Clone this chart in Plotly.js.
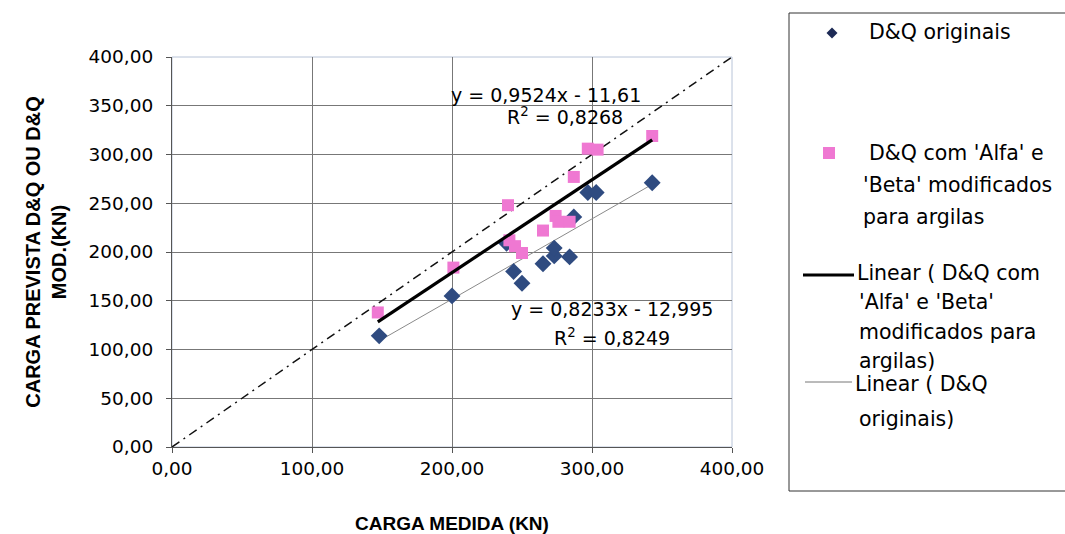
<!DOCTYPE html>
<html>
<head>
<meta charset="utf-8">
<script src="https://cdn.plot.ly/plotly-3.0.1.min.js"></script>
<style>
  html, body { margin: 0; padding: 0; background: #fff; }
  #chart { width: 1065px; height: 534px; }
</style>
</head>
<body>
<div id="chart"></div>
<script>
// ---- data ----
const xOriginais = [148, 200, 239, 244, 250, 265, 273, 273, 284, 287, 297, 303, 343];
const yOriginais = [114, 155, 209, 180, 168, 188, 196, 204, 195, 236, 261, 261, 271];

const xModificados = [147, 201, 240, 241, 245, 250, 265, 274, 276, 284, 287, 297, 304, 343];
const yModificados = [138, 184, 248, 212, 206, 199, 222, 237, 231, 231, 277, 306, 305, 319];

// trend line equations as printed on the chart
const trendSlopes = [0.9524, 0.8233];
const trendIntercepts = [-11.61, -12.995];
const trendLabels = ['y = 0,9524x - 11,61', 'y = 0,8233x - 12,995'];
const r2Labels = ['R<sup>2</sup> = 0,8268', 'R<sup>2</sup> = 0,8249'];

const identityLine = [0, 400];
const xTickValues = [0, 100, 200, 300, 400];
const yTickValues = [0, 50, 100, 150, 200, 250, 300, 350, 400];

const legendNames = ['D&Q originais', "D&Q com 'Alfa' e 'Beta' modificados para argilas"];

// ---- helpers ----
const FONT = 'DejaVu Sans, Liberation Sans, Arial, sans-serif';
const BFONT = 'Liberation Sans, Arial, sans-serif';
const PL = 172, PR = 732, PT = 57, PB = 447;
const px = v => (v - PL) / (PR - PL);
const py = v => (PB - v) / (PB - PT);

function trend(xs, i) {
  const x0 = Math.min(...xs), x1 = Math.max(...xs);
  return { x: [x0, x1], y: [trendSlopes[i] * x0 + trendIntercepts[i], trendSlopes[i] * x1 + trendIntercepts[i]] };
}
const tMod = trend(xModificados, 0);
const tOri = trend(xOriginais, 1);

const BLUE = '#2f4b80';
const PINK = '#ef78d2';

const traces = [
  { x: identityLine, y: identityLine, mode: 'lines', line: { color: '#111', width: 1.5, dash: '9px,5px,2px,5px' }, hoverinfo: 'skip' },
  { x: tOri.x, y: tOri.y, mode: 'lines', line: { color: '#8a8a8a', width: 1 } },
  { x: xOriginais, y: yOriginais, mode: 'markers', name: legendNames[0],
    marker: { symbol: 'diamond', size: 13, color: BLUE } },
  { x: xModificados, y: yModificados, mode: 'markers', name: legendNames[1],
    marker: { symbol: 'square', size: 12, color: PINK } },
  { x: tMod.x, y: tMod.y, mode: 'lines', line: { color: '#000', width: 3.2 } }
];

// legend (drawn manually to follow the reference box)
const legLines = [
  { t: 'D&Q originais', x: 867, y: 32 },
  { t: "D&Q com 'Alfa' e", x: 867, y: 153 },
  { t: "'Beta' modificados", x: 861, y: 185 },
  { t: 'para argilas', x: 861, y: 217 },
  { t: 'Linear ( D&Q com', x: 855, y: 273 },
  { t: "'Alfa' e 'Beta'", x: 857, y: 302 },
  { t: 'modificados para', x: 857, y: 332 },
  { t: 'argilas)', x: 857, y: 361 },
  { t: 'Linear ( D&Q', x: 853, y: 384 },
  { t: 'originais)', x: 857, y: 419 }
];

const annotations = legLines.map(l => ({
  xref: 'paper', yref: 'paper', x: px(l.x), y: py(l.y), xanchor: 'left', yanchor: 'middle',
  text: l.t, showarrow: false, font: { family: FONT, size: 20.5, color: '#000' }
}));

annotations.push(
  { x: 267, y: 361, text: trendLabels[0], showarrow: false, font: { family: FONT, size: 19, color: '#000' } },
  { x: 281, y: 339, text: r2Labels[0], showarrow: false, font: { family: FONT, size: 19, color: '#000' } },
  { x: 314, y: 142, text: trendLabels[1], showarrow: false, font: { family: FONT, size: 19, color: '#000' } },
  { x: 314, y: 113, text: r2Labels[1], showarrow: false, font: { family: FONT, size: 19, color: '#000' } }
);

function diamondPath(cx, cy, r) {
  return `M ${px(cx - r)} ${py(cy)} L ${px(cx)} ${py(cy - r)} L ${px(cx + r)} ${py(cy)} L ${px(cx)} ${py(cy + r)} Z`;
}

const shapes = [
  { type: 'rect', xref: 'paper', yref: 'paper', x0: px(789), x1: px(1080), y0: py(491), y1: py(13),
    line: { color: '#333', width: 1 }, fillcolor: 'rgba(0,0,0,0)' },
  { type: 'path', xref: 'paper', yref: 'paper', path: diamondPath(832, 33, 5.5), fillcolor: '#1d2a55', line: { width: 0 } },
  { type: 'rect', xref: 'paper', yref: 'paper', x0: px(823), x1: px(835), y0: py(159), y1: py(147), fillcolor: PINK, line: { width: 0 } },
  { type: 'line', xref: 'paper', yref: 'paper', x0: px(803), x1: px(854), y0: py(275), y1: py(275), line: { color: '#000', width: 3 } },
  { type: 'line', xref: 'paper', yref: 'paper', x0: px(805), x1: px(852), y0: py(382), y1: py(382), line: { color: '#777', width: 1 } },
  { type: 'rect', xref: 'paper', yref: 'paper', x0: 0, x1: 1, y0: 0, y1: 1, line: { color: '#b8c4d8', width: 1 }, layer: 'below' }
];

const layout = {
  width: 1065, height: 534,
  margin: { l: PL, r: 1065 - PR, t: PT, b: 534 - PB, pad: 0 },
  paper_bgcolor: '#fff', plot_bgcolor: '#fff',
  separators: ',.',
  showlegend: false,
  font: { family: FONT, color: '#000' },
  xaxis: {
    range: [0, 400], tickvals: xTickValues, tickformat: '.2f',
    showgrid: true, gridcolor: '#777', gridwidth: 1, zeroline: false,
    showline: true, linecolor: '#555', linewidth: 1, ticks: 'outside', ticklen: 5, tickcolor: '#555',
    tickfont: { family: FONT, size: 18.5, color: '#000' },
    title: { text: '<b>CARGA MEDIDA (KN)</b>', font: { family: BFONT, size: 19, color: '#000' }, standoff: 38 }
  },
  yaxis: {
    range: [0, 400], tickvals: yTickValues, tickformat: '.2f',
    showgrid: true, gridcolor: '#777', gridwidth: 1, zeroline: false,
    showline: true, linecolor: '#555', linewidth: 1, ticks: 'outside', ticklen: 5, tickcolor: '#555',
    ticklabelstandoff: 9,
    tickfont: { family: FONT, size: 18.5, color: '#000' },
    title: { text: '<b>CARGA PREVISTA D&Q OU D&Q<br>MOD.(KN)</b>', font: { family: BFONT, size: 20, color: '#000' }, standoff: 16 }
  },
  annotations: annotations,
  shapes: shapes
};

Plotly.newPlot('chart', traces, layout, { displayModeBar: false, staticPlot: true });
</script>
</body>
</html>
